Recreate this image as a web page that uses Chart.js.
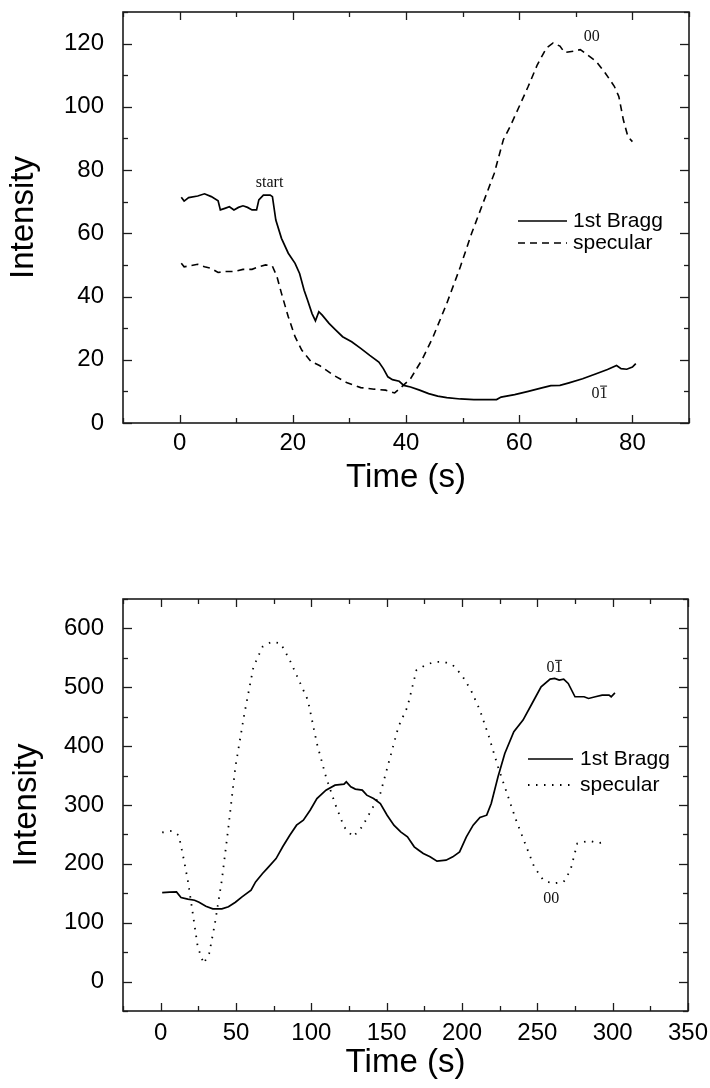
<!DOCTYPE html>
<html><head><meta charset="utf-8">
<script src="https://cdn.jsdelivr.net/npm/chart.js@4.4.1/dist/chart.umd.min.js"></script>
<style>
html,body{margin:0;padding:0;background:#fff;width:710px;height:1088px;overflow:hidden}
.box{position:absolute;left:0;width:710px;height:544px}
canvas{display:block}
</style></head><body>
<div class="box" style="top:0"><canvas id="c1" width="710" height="544"></canvas></div>
<div class="box" style="top:544px"><canvas id="c2" width="710" height="544"></canvas></div>
<script>
// ---------- Panel A (top) ----------
const braggTimeA = [0.3,0.8,1.6,3.2,4.4,5.6,6.8,7.2,8,8.8,9.6,10.4,11.2,12,12.8,13.6,14,14.8,16,16.4,17,18,19.2,20.4,21.2,22,22.6,23.4,24,24.6,25.2,26.4,27.6,28.8,30.4,32,33.6,35.2,36,36.8,37.6,38.8,39.6,40.8,42.4,44,45.6,47.2,49.6,52,54.4,56,56.8,59.2,61.6,64,65.6,67.2,68.8,71.2,73.6,75.6,77.2,78,79,80,80.6];
const braggA     = [71.4,70.2,71.3,71.8,72.5,71.6,70.3,67.4,67.9,68.4,67.4,68.2,68.7,68.2,67.4,67.4,70.6,72.1,72.1,71.6,64.2,58.4,53.7,50.5,47.3,42,38.9,34.6,32.3,35.2,34.1,31.5,29.4,27.3,25.7,23.6,21.4,19.3,17.2,14.6,13.7,13.2,11.9,11.4,10.4,9.3,8.5,8.0,7.6,7.4,7.4,7.4,8.2,9.0,10.0,11.1,11.8,11.9,12.7,14.0,15.6,16.9,18.2,17.2,17.0,17.7,18.8];
const specTimeA  = [0.3,0.8,2,3.2,4.4,5.6,6.8,8,9.6,11.2,12.8,14,15.2,16.4,17.2,18,19.2,20.4,21.6,23.2,24.8,27.2,29.6,32,34.4,36.4,38,39.2,40.8,42.8,44.8,47.2,49.6,51.6,53.6,55.6,57.2,58.4,60,61.6,63.2,64.8,66,67.2,68,69.6,70.8,72,73.6,75.2,76.8,77.6,78.4,79.2,80];
const specA      = [50.5,49.4,49.8,50.2,49.4,48.9,47.6,47.9,47.9,48.6,48.6,49.4,50,49.6,46.3,41,33.6,27.3,23,19.5,18.1,15.1,12.7,11.2,10.7,10.4,9.5,11.4,14.0,19.9,27.3,37.8,49.4,60,69.5,79,89.6,93.8,100.1,106.5,113.3,118.6,120.2,119.2,117.2,117.6,118.1,116.5,114.4,110.7,106.5,103.3,95.9,90.6,89];
const xMajorA = [0,20,40,60,80];
const xMinorA = [-10,10,30,50,70,90];
const yMajorA = [0,20,40,60,80,100,120];
const yMinorA = [10,30,50,70,90,110,130];
const annTextA = ['start','00','01\u0304'];
const annXA = [15.9,72.8,74.2];
const annYA = [75.9,122.3,9.3];

// ---------- Panel B (bottom) ----------
const braggTimeB = [1,6,10.5,13.5,18,22.5,25.5,30,34.6,40.6,45,49.6,54,60,63,67.6,70.6,76.6,81,85.7,90.2,94.7,99.2,103.7,109.7,115.7,121.7,123.2,126.2,129.2,133.8,136.8,141.3,145.8,150.3,154.8,159.3,163.8,168.3,171.3,174.3,178.8,183.4,189.4,193.9,198.4,202.9,207.4,211.9,216.4,219.4,223.9,228.4,234.4,240.5,246.5,252.5,258.5,261.5,264.5,267.5,270.5,275,281,284,288.5,293,297.6,299,301.5];
const braggB     = [151,152,152.4,142.8,140,138.2,134.8,128,123.5,123.5,127,134.8,143.9,155.2,169.4,183.6,192,209,229,248.7,265.7,274.2,291.2,311,325.2,333.7,335.4,339.4,331,327,325.2,316.7,311,302.5,282.7,265.7,254.4,245.9,228.9,223.2,217.6,211.9,204.5,206.2,211.9,220.4,245.9,265.7,278.8,282.7,302.5,347.9,387.5,424.4,444.2,472.5,500.8,513.9,515,512.2,513.9,506.5,483.9,483.9,481,483.9,486.7,486.7,483.9,490.6];
const specTimeB  = [1,7.5,12,15,18,21,24.6,28.5,32.2,36,40.6,45,49.6,55.6,61.6,67.6,73.6,79.7,85.7,91.7,97.7,103.7,109.7,115.7,121.7,127.7,133.7,139.8,145.8,151.8,157.8,163.8,169.8,175.8,181.8,187.9,193.9,199.9,205.9,211.9,217.9,223.9,229.9,235.9,241.9,247.9,254,260,267.5,272,276.5,284.4,290.4,296];
const specB      = [253.3,256,248.7,211.9,172.2,121.2,58.9,30.6,47.6,98.6,172.2,262.9,364.9,455.5,534.8,568.8,577.3,574.5,546.2,512.2,478.2,404.5,347.9,302.5,262.9,245.9,262.9,291.2,319.5,376.2,432.9,466.9,529.2,537.7,543.3,543.3,537.7,520.7,495.2,461.2,415.9,364.9,319.5,274.2,234.6,194.9,172.2,166.6,169.4,189.2,234.6,239.4,235,237.7];
const xMajorB = [0,50,100,150,200,250,300,350];
const xMinorB = [-25,25,75,125,175,225,275,325];
const yMajorB = [0,100,200,300,400,500,600];
const yMinorB = [-50,50,150,250,350,450,550,650];
const annTextB = ['01\u0304','00'];
const annXB = [261.4,259.3];
const annYB = [533,140];

const seriesNames = ['1st Bragg','specular'];

const pts = (xs, ys) => xs.map((x, i) => ({x, y: ys[i]}));

const framePlugin = {
  id: 'frame',
  afterDatasetsDraw(chart, args, o) {
    const {ctx, chartArea: ca, scales: {x, y}} = chart;
    ctx.save();
    ctx.strokeStyle = '#1c1c1c';
    ctx.lineWidth = 1.3;
    const ln = (x1, y1, x2, y2) => { ctx.beginPath(); ctx.moveTo(x1, y1); ctx.lineTo(x2, y2); ctx.stroke(); };
    const xt = (vals, len) => vals.forEach(v => { const p = Math.round(x.getPixelForValue(v)) + 0.5; if (p < ca.left - 1 || p > ca.right + 1) return; ln(p, ca.bottom, p, ca.bottom - len); ln(p, ca.top, p, ca.top + len); });
    const yt = (vals, len) => vals.forEach(v => { const p = Math.round(y.getPixelForValue(v)) + 0.5; if (p < ca.top - 1 || p > ca.bottom + 1) return; ln(ca.left, p, ca.left + len, p); ln(ca.right, p, ca.right - len, p); });
    xt(o.xMajor, 8); xt(o.xMinor, 5); yt(o.yMajor, 9); yt(o.yMinor, 5);
    ctx.lineWidth = 1.6;
    ctx.strokeRect(ca.left, ca.top, ca.right - ca.left, ca.bottom - ca.top);
    // legend
    const lg = o.legend;
    chart.data.datasets.forEach((ds, i) => {
      const yy = lg.y + i * lg.dy;
      ctx.strokeStyle = ds.borderColor;
      ctx.lineWidth = ds.borderWidth;
      ctx.setLineDash(ds.borderDash || []);
      ln(lg.x1, yy, lg.x2, yy);
      ctx.setLineDash([]);
      ctx.fillStyle = '#000';
      ctx.font = '21px "Liberation Sans", Arial, sans-serif';
      ctx.textBaseline = 'middle';
      ctx.textAlign = 'left';
      ctx.fillText(ds.label, lg.tx, yy);
    });
    // annotations (a combining macron is drawn as an overbar on the preceding glyph)
    ctx.font = '16px "Liberation Serif", "Times New Roman", serif';
    ctx.textAlign = 'left';
    ctx.textBaseline = 'middle';
    ctx.fillStyle = '#111';
    ctx.strokeStyle = '#111';
    ctx.lineWidth = 1;
    o.ann.text.forEach((t, i) => {
      const bar = t.endsWith('\u0304');
      const s = bar ? t.slice(0, -1) : t;
      const w = ctx.measureText(s).width;
      const px = x.getPixelForValue(o.ann.x[i]) - w / 2;
      const py = y.getPixelForValue(o.ann.y[i]);
      ctx.fillText(s, px, py);
      if (bar) {
        const wl = ctx.measureText(s.slice(-1)).width;
        ln(px + w - wl + 0.5, py - 7.5, px + w - 0.5, py - 7.5);
      }
    });
    ctx.restore();
  }
};

function makeChart(id, cfg) {
  const tickFont = {family: '"Liberation Sans", Arial, sans-serif', size: 24};
  const titleFont = {family: '"Liberation Sans", Arial, sans-serif', size: 33};
  return new Chart(document.getElementById(id), {
    type: 'line',
    data: {
      datasets: [
        {label: seriesNames[0], data: pts(cfg.bx, cfg.by), borderColor: '#000', borderWidth: 1.7, pointRadius: 0, tension: 0, fill: false},
        {label: seriesNames[1], data: pts(cfg.sx, cfg.sy), borderColor: '#000', borderWidth: cfg.specWidth, borderDash: cfg.dash, borderCapStyle: 'butt', pointRadius: 0, tension: 0, fill: false}
      ]
    },
    options: {
      responsive: false, animation: false, devicePixelRatio: 1,
      layout: {padding: {top: cfg.padTop, right: cfg.padRight, left: 0, bottom: 0}},
      plugins: {legend: {display: false}, tooltip: {enabled: false},
        frame: {xMajor: cfg.xMajor, xMinor: cfg.xMinor, yMajor: cfg.yMajor, yMinor: cfg.yMinor, legend: cfg.legend, ann: cfg.ann}},
      scales: {
        x: {type: 'linear', min: cfg.xMin, max: cfg.xMax,
          grid: {display: false}, border: {display: false},
          afterBuildTicks: s => { s.ticks = cfg.xMajor.map(v => ({value: v})); },
          afterFit: s => { s.height = cfg.xAxisH; s.paddingLeft = 0; s.paddingRight = 0; },
          ticks: {color: '#000', font: tickFont, padding: cfg.xTickPad, maxRotation: 0, autoSkip: false, callback: v => String(v)},
          title: {display: true, text: 'Time (s)', color: '#000', font: titleFont, padding: {top: 0, bottom: cfg.xTitlePad}}},
        y: {type: 'linear', min: cfg.yMin, max: cfg.yMax,
          grid: {display: false}, border: {display: false},
          afterBuildTicks: s => { s.ticks = cfg.yMajor.map(v => ({value: v})); },
          afterFit: s => { s.width = 123; s.paddingTop = 0; s.paddingBottom = 0; },
          ticks: {color: '#000', font: tickFont, padding: 11, autoSkip: false, callback: v => String(v)},
          title: {display: true, text: 'Intensity', color: '#000', font: titleFont, padding: {top: cfg.yTitlePad, bottom: 0}}}
      }
    },
    plugins: [framePlugin]
  });
}

makeChart('c1', {
  bx: braggTimeA, by: braggA, sx: specTimeA, sy: specA,
  dash: [7, 5], specWidth: 1.6,
  xMin: -10, xMax: 90, yMin: 0, yMax: 130,
  xMajor: xMajorA, xMinor: xMinorA, yMajor: yMajorA, yMinor: yMinorA,
  padTop: 12, padRight: 21, xAxisH: 121, xTickPad: -2, xTitlePad: 46, yTitlePad: 4,
  legend: {x1: 518, x2: 567, tx: 573, y: 221, dy: 22},
  ann: {text: annTextA, x: annXA, y: annYA}
});
makeChart('c2', {
  bx: braggTimeB, by: braggB, sx: specTimeB, sy: specB,
  dash: [1.5, 6.5], specWidth: 1.8,
  xMin: -25, xMax: 350, yMin: -50, yMax: 650,
  xMajor: xMajorB, xMinor: xMinorB, yMajor: yMajorB, yMinor: yMinorB,
  padTop: 55, padRight: 22, xAxisH: 77, xTickPad: 0, xTitlePad: 5, yTitlePad: 7,
  legend: {x1: 528, x2: 573, tx: 580, y: 215, dy: 26},
  ann: {text: annTextB, x: annXB, y: annYB}
});
</script>
</body></html>
